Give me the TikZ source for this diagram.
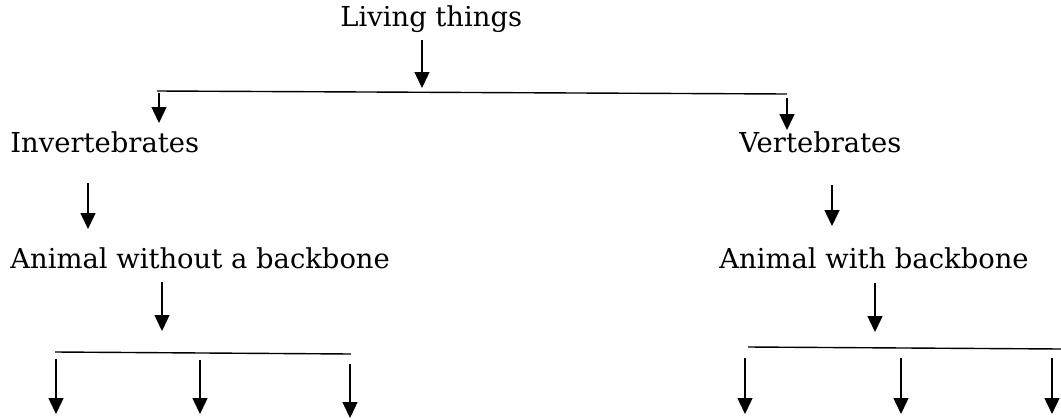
\documentclass[tikz,border=0pt]{standalone}
\usepackage{fontspec}
\setmainfont{DejaVu Serif}
\usetikzlibrary{arrows.meta,positioning}
\tikzset{
  txt/.style={font=\fontsize{13.7}{16}\selectfont, inner sep=0pt, anchor=base west},
  bar/.style={line width=0.7pt},
  arr/.style={line width=0.7pt, -{Triangle[length=8pt,width=7.5pt]}}
}

\begin{document}
\begin{tikzpicture}[x=0.5pt,y=-0.5pt]
\useasboundingbox (0,0) rectangle (1061,418);

% Labels
\node[txt] (living) at (340,26) {Living things};
\node[txt] (invert) at (10,152) {Invertebrates};
\node[txt] (vert) at (739,152) {Vertebrates};
\node[txt] (nobone) at (10,268) {Animal without a backbone};
\node[txt] (bone) at (719,268) {Animal with backbone};

% Branch lines
\coordinate (topL) at (157,91);
\coordinate (topR) at (787,94);
\coordinate (leftL) at (55,352);
\coordinate (leftR) at (351,354);
\coordinate (rightL) at (748,347);
\coordinate (rightR) at (1061,349);
\draw[bar] (topL) -- (topR);
\draw[bar] (leftL) -- (leftR);
\draw[bar] (rightL) -- (rightR);

% Arrows
\foreach \n/\x/\ya/\yb in {living/422/40/88, invert/159/93/123, vert/787/98/130,
    nobone/88/183/229, bone/832/185/226, down1/162/282/331, down2/875/283/332,
    leafA/56/359/414, leafB/200/360/414, leafC/350/364/418,
    leafD/745/358/414, leafE/901/358/414, leafF/1052/358/414} {
  \coordinate (\n-s) at (\x,\ya);
  \coordinate (\n-e) at (\x,\yb);
  \draw[arr] (\n-s) -- (\n-e);
}
\end{tikzpicture}
\end{document}
